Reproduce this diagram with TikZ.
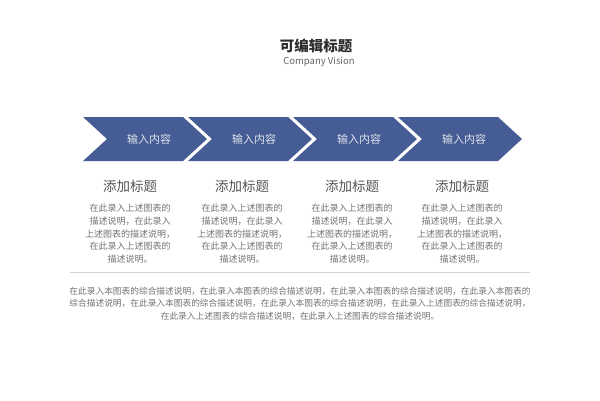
\documentclass[tikz,border=0pt]{standalone}
\usepackage{fontspec}
\setmainfont{Noto Sans CJK SC}
\definecolor{chev}{RGB}{70,92,148}
\definecolor{chevtxt}{RGB}{222,226,236}
\definecolor{titlec}{RGB}{45,45,45}
\definecolor{subc}{RGB}{100,100,100}
\definecolor{headc}{RGB}{85,85,85}
\definecolor{bodyc}{RGB}{115,115,115}
\definecolor{sepc}{RGB}{210,210,210}
\tikzset{
  chevlabel/.style={text=chevtxt, font=\fontsize{11}{13}\selectfont, inner sep=0pt},
  headlabel/.style={text=headc, font=\fontsize{13.5}{16}\selectfont, inner sep=0pt},
  bodylabel/.style={text=bodyc, font=\fontsize{9}{12.7}\selectfont, align=center, inner sep=0pt},
  notelabel/.style={text=bodyc, font=\fontsize{8.7}{12.4}\selectfont, align=center, inner sep=0pt},
}
\begin{document}
\begin{tikzpicture}[x=1pt,y=-1pt]
\useasboundingbox[fill=white] (0,0) rectangle (600,400);
% title
\node[text=titlec, font=\fontsize{14.5}{17}\selectfont\bfseries, inner sep=0pt] (title) at (316,46) {可编辑标题};
\node[text=subc, font=\fontsize{9.5}{11}\selectfont, inner sep=0pt] (sub) at (319,62) {Company Vision};
% chevrons
\foreach \i in {0,1,2,3} {
  \pgfmathsetmacro{\xo}{83+105*\i}
  \fill[chev] (\xo,117) -- (\xo+100,117) -- (\xo+124,139) -- (\xo+100,161) -- (\xo,161) -- (\xo+24,139) -- cycle;
  \node[chevlabel] (c\i) at (\xo+66,139) {输入内容};
}
% headings and bodies
\foreach \cx [count=\k] in {130,242,352,462} {
  \node[headlabel] (h\k) at (\cx,186) {添加标题};
  \node[bodylabel, anchor=north] (b\k) at (\cx,204) {在此录入上述图表的\\描述说明，在此录入\\上述图表的描述说明，\\在此录入上述图表的\\描述说明。};
}
% separator
\coordinate (sl) at (70,272);
\coordinate (sr) at (530,272);
\draw[sepc, line width=0.8pt] (sl) -- (sr);
% note
\node[notelabel, anchor=north] (note) at (300,287) {在此录入本图表的综合描述说明，在此录入本图表的综合描述说明，在此录入本图表的综合描述说明，在此录入本图表的\\综合描述说明，在此录入本图表的综合描述说明，在此录入本图表的综合描述说明，在此录入上述图表的综合描述说明，\\在此录入上述图表的综合描述说明，在此录入上述图表的综合描述说明。};
\end{tikzpicture}
\end{document}
